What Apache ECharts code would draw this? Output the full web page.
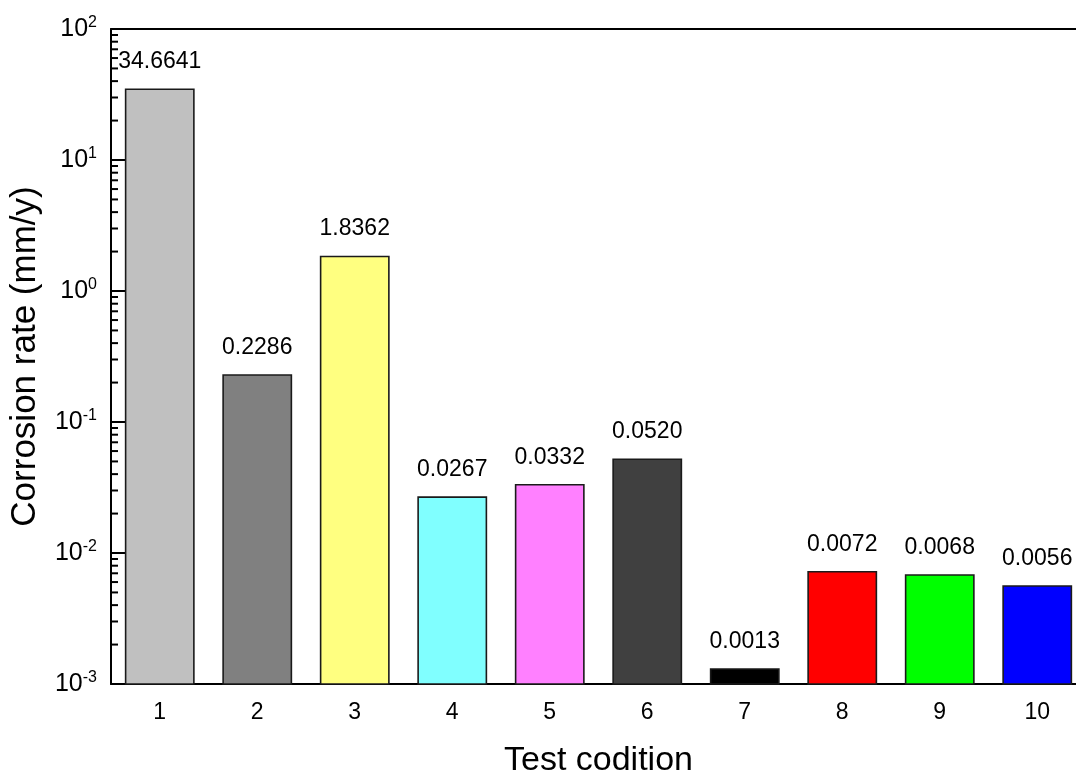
<!DOCTYPE html>
<html>
<head>
<meta charset="utf-8">
<script src="https://cdn.jsdelivr.net/npm/echarts@6/dist/echarts.min.js"></script>
<style>
  html, body { margin: 0; padding: 0; background: #ffffff; }
  #chart { width: 1076px; height: 773px; }
</style>
</head>
<body>
<div id="chart"></div>
<script>
// Test conditions and their measured corrosion rates (mm/y)
const categories = ['1', '2', '3', '4', '5', '6', '7', '8', '9', '10'];
const corrosionRates = [34.6641, 0.2286, 1.8362, 0.0267, 0.0332, 0.0520, 0.0013, 0.0072, 0.0068, 0.0056];
const barColors = ['#c0c0c0', '#808080', '#ffff80', '#80ffff', '#ff80ff', '#404040', '#000000', '#ff0000', '#00ff00', '#0000ff'];
// Decade exponents used for the y tick labels (10^-3 ... 10^2)
const decadeExponents = [-3, -2, -1, 0, 1, 2];
// Minor tick multipliers inside each decade
const minorMultipliers = [2, 3, 4, 5, 6, 7, 8, 9];

const FONT = '"Liberation Sans", Arial, sans-serif';

const minorTickValues = [];
for (let k = decadeExponents[0]; k < decadeExponents[decadeExponents.length - 1]; k++) {
  minorMultipliers.forEach(m => minorTickValues.push([0, +(m * Math.pow(10, k)).toPrecision(3)]));
}

const chart = echarts.init(document.getElementById('chart'), null, { renderer: 'canvas' });

const option = {
  backgroundColor: '#ffffff',
  animation: false,
  grid: { left: 111, top: 29, bottom: 89, right: -10, containLabel: false, outerBoundsMode: 'none' },
  xAxis: [{
    type: 'category',
    data: categories,
    position: 'bottom',
    axisLine: { lineStyle: { color: '#000', width: 2 } },
    axisTick: { show: false },
    axisLabel: { color: '#000', fontFamily: FONT, fontSize: 23, margin: 17 },
    name: 'Test codition',
    nameLocation: 'middle',
    nameGap: 60,
    nameTextStyle: { color: '#000', fontFamily: FONT, fontSize: 34 }
  }, {
    type: 'category',
    data: categories,
    position: 'top',
    axisLine: { lineStyle: { color: '#000', width: 2 } },
    axisTick: { show: false },
    axisLabel: { show: false }
  }],
  yAxis: {
    type: 'log',
    logBase: 10,
    min: 0.001,
    max: 100,
    position: 'left',
    axisLine: { show: true, lineStyle: { color: '#000', width: 2 } },
    axisTick: { show: true, inside: true, length: 14, lineStyle: { color: '#000', width: 2 } },
    splitLine: { show: false },
    axisLabel: {
      margin: 14,
      formatter: function (v) {
        const e = Math.round(Math.log10(v));
        return '{b|10}{s|' + e + '}';
      },
      rich: {
        b: { color: '#000', fontFamily: FONT, fontSize: 25 },
        s: { color: '#000', fontFamily: FONT, fontSize: 16, padding: [0, 0, 13, 0] }
      }
    },
    name: 'Corrosion rate (mm/y)',
    nameLocation: 'middle',
    nameGap: 68,
    nameRotate: 90,
    nameTextStyle: { color: '#000', fontFamily: FONT, fontSize: 35 }
  },
  series: [{
    type: 'custom',
    name: 'rate',
    encode: { x: 0, y: 1 },
    data: corrosionRates.map((v, i) => [i, v]),
    renderItem: function (params, api) {
      const i = api.value(0);
      const v = api.value(1);
      const top = api.coord([i, v]);
      const bandW = api.size([1, 0])[0];
      const w = bandW * 0.70;
      const bottom = params.coordSys.y + params.coordSys.height;
      return {
        type: 'group',
        children: [{
          type: 'rect',
          shape: { x: top[0] - w / 2, y: top[1], width: w, height: bottom - top[1] },
          style: { fill: barColors[i], stroke: '#1a1a1a', lineWidth: 1.6 }
        }, {
          type: 'text',
          x: top[0],
          y: top[1] - 16,
          style: {
            text: v.toFixed(4),
            fill: '#000',
            font: '23px ' + FONT,
            textAlign: 'center',
            textVerticalAlign: 'bottom'
          }
        }]
      };
    },
    z: 2
  }, {
    type: 'custom',
    name: 'minorTicks',
    encode: { x: 0, y: 1 },
    data: minorTickValues,
    silent: true,
    renderItem: function (params, api) {
      const p = api.coord([0, api.value(1)]);
      const x0 = params.coordSys.x;
      return {
        type: 'line',
        shape: { x1: x0, y1: p[1], x2: x0 + 7, y2: p[1] },
        style: { stroke: '#000', lineWidth: 2 }
      };
    },
    z: 3
  }]
};

chart.setOption(option);
</script>
</body>
</html>
